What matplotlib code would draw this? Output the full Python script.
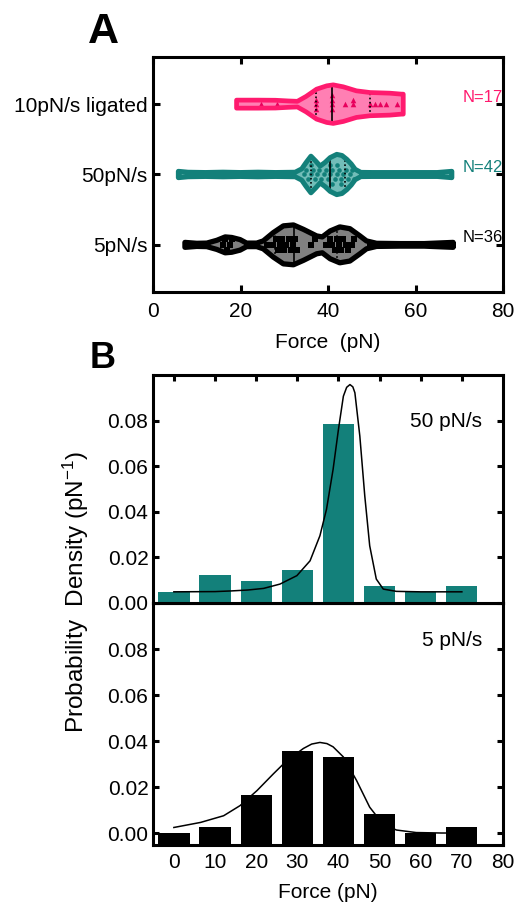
import numpy as np
import matplotlib
matplotlib.use("Agg")
import matplotlib.pyplot as plt

plt.rcParams["font.family"] = ["Liberation Sans", "DejaVu Sans"]
plt.rcParams["mathtext.fontset"] = "custom"
plt.rcParams["mathtext.rm"] = "Liberation Sans"
plt.rcParams["mathtext.default"] = "regular"
plt.rcParams["font.size"] = 15

# ---- panel A: rupture forces (pN) per condition ----
groups = ["5pN/s", "50pN/s", "10pN/s ligated"]
n_labels = ["N=36", "N=42", "N=17"]

f_5 = [7.5, 16.0, 16.5, 17.0, 17.5, 18.0, 23.0,
       26.0, 27.5, 28.0, 28.5, 29.0, 29.5, 30.0, 30.5, 31.0, 31.5, 32.0, 32.5, 33.0,
       36.0, 37.0, 39.5, 40.5, 41.0, 41.5, 42.0, 42.5, 43.0, 43.5, 44.0, 44.5,
       45.5, 46.0, 49.5, 68.5]
f_50 = [6.0, 11.0, 13.0, 21.0, 24.0, 28.0, 31.0,
        34.5, 35.0, 35.5, 36.0, 36.0, 36.5, 37.0, 37.5, 38.0, 38.5,
        39.0, 39.5, 40.0, 40.5, 40.5, 41.0, 41.0, 41.5, 42.0, 42.0, 42.5, 43.0,
        43.0, 43.5, 44.0, 44.5, 45.0, 45.5, 46.0,
        50.0, 55.0, 60.0, 62.0, 66.0, 68.0]
f_lig = [24.6, 28.3, 37.3, 37.3, 37.3, 40.8, 40.8, 40.8, 40.8, 43.9,
         45.6, 45.6, 49.6, 50.7, 51.9, 53.2, 55.7]

# violin outlines: force grid and half width (category units)
prof5_x = [7.3, 10, 12.3, 14.6, 16.5, 18.0, 19.9, 21.4, 23.7, 25.2, 27.5, 29.8, 32.1,
           34.4, 37.4, 38.7, 40.5, 42.7, 45.0, 47.3, 48.8, 51.1, 56.5, 62, 68.6]
prof5_w = [0.035, 0.022, 0.025, 0.065, 0.113, 0.105, 0.075, 0.025, 0.025, 0.056, 0.174,
           0.27, 0.283, 0.22, 0.127, 0.113, 0.198, 0.255, 0.23, 0.127, 0.056, 0.022,
           0.018, 0.018, 0.035]
prof50_x = [5.8, 8, 12, 16, 20, 24, 28, 32.5, 34.0, 35.0, 36.1, 37.2, 38.2, 39.3, 40.5,
            42.0, 43.2, 44.3, 45.3, 46.2, 47.5, 50, 55, 60, 65, 68.3]
prof50_w = [0.045, 0.032, 0.028, 0.033, 0.028, 0.033, 0.028, 0.032, 0.08, 0.17, 0.26,
            0.19, 0.12, 0.17, 0.24, 0.286, 0.27, 0.215, 0.15, 0.074, 0.03, 0.028,
            0.028, 0.028, 0.028, 0.045]
proflig_x = [19.1, 20, 24, 28, 31, 33, 35, 37.4, 39.7, 41.2, 43.5, 46.5, 49.6, 54.1,
             56.8, 57.2]
proflig_w = [0.057, 0.057, 0.057, 0.055, 0.045, 0.04, 0.11, 0.213, 0.26, 0.274, 0.246,
             0.189, 0.165, 0.156, 0.142, 0.142]

# ---- panel B: histograms (probability density, 1/pN) and fitted curves ----
bins = [0, 10, 20, 30, 40, 50, 60, 70]
dens50 = [0.0049, 0.0123, 0.0096, 0.0146, 0.0786, 0.0074, 0.0049, 0.0074]
dens5 = [0.0, 0.0028, 0.0168, 0.0358, 0.0332, 0.0083, 0.0, 0.0028]

fit50_x = [0, 10, 14, 18, 21.8, 25.8, 29.9, 33.1, 35.5, 37.1, 38.7, 40.0, 41.2, 42.0,
           42.8, 43.5, 44.0, 45.2, 46.4, 47.6, 49.2, 50.9, 54.1, 60, 70]
fit50_y = [0.0049, 0.0050, 0.0053, 0.0057, 0.0064, 0.0083, 0.0120, 0.0185, 0.0295,
           0.0411, 0.0586, 0.0761, 0.0907, 0.0946, 0.0958, 0.0948, 0.0922, 0.0732,
           0.0470, 0.0251, 0.0105, 0.0061, 0.0051, 0.0049, 0.0049]
fit5_x = [0, 6.5, 12.1, 16.1, 20.2, 24.2, 27.5, 31.5, 33.5, 35.5, 37.2, 38.7, 41.2,
          44.4, 47.6, 50.8, 54.1, 58.9, 65, 70]
fit5_y = [0.0026, 0.0048, 0.0077, 0.0121, 0.0186, 0.0259, 0.0317, 0.0369, 0.0388,
          0.0395, 0.0390, 0.0376, 0.0332, 0.0230, 0.0114, 0.0041, 0.0015, 0.0004,
          0.0002, 0.0002]

pink, pink_fill, pink_pt = "#ff1a6e", "#ff7fb3", "#e8005c"
teal, teal_fill = "#13807a", "#72bdb8"
grey = "#808080"

fig = plt.figure(figsize=(5.16, 9.02), dpi=100)
W, H = 516, 902


def swarm(vals, sx, sy, d=4.6):
    # simple beeswarm: stack points vertically when they would overlap (px units)
    placed, offs = [], []
    for v in vals:
        for k in [0, 1, -1, 2, -2, 3, -3, 4, -4, 5, -5]:
            o = k * d / sy
            if all(((v - pv) * sx) ** 2 + ((o - po) * sy) ** 2 >= d ** 2 for pv, po in placed):
                break
        placed.append((v, o))
        offs.append(o)
    return np.array(offs)


axA = fig.add_axes([153 / W, 1 - 292 / H, 350 / W, 235 / H])
sx, sy = 350 / 80, 235 / 3.34
violins = [
    (1, prof5_x, prof5_w, f_5, "s", "black", grey, "black", 16, 3.8, 5.4),
    (2, prof50_x, prof50_w, f_50, "o", teal, teal_fill, teal, 11, 3.6, 4.6),
    (3, proflig_x, proflig_w, f_lig, "^", pink, pink_fill, pink_pt, 16, 3.4, 4.6),
]
for pos, vx, vw, pts, mk, edge, fill, pcol, ms, lw, gap in violins:
    vx = np.array(vx); vw = np.array(vw)
    xs = np.r_[vx, vx[::-1]]
    ys = np.r_[pos + vw, (pos - vw)[::-1]]
    axA.fill(xs, ys, facecolor=fill, edgecolor="none", zorder=2)
    pts = np.array(pts)
    offs = swarm(pts, sx, sy, gap)
    axA.scatter(pts, pos + offs, marker=mk, s=ms, color=pcol, linewidths=0, zorder=3)
    q1, med, q3 = np.percentile(pts, [25, 50, 75])
    for q, ls in [(q1, (0, (1, 1.5))), (med, "-"), (q3, (0, (1, 1.5)))]:
        hw = np.interp(q, vx, vw)
        axA.plot([q, q], [pos - hw, pos + hw], color="black", lw=1.2, ls=ls, zorder=4)
    axA.fill(xs, ys, facecolor="none", edgecolor=edge, lw=lw, joinstyle="round", zorder=5)

for pos, lab, col, dy in [(1, n_labels[0], "black", 0.04), (2, n_labels[1], teal, 0.04),
                          (3, n_labels[2], pink, 0.03)]:
    axA.text(70.8, pos + dy, lab, color=col, fontsize=12, ha="left", va="baseline")

axA.set_xlim(0, 80)
axA.set_ylim(0.33, 3.67)
axA.set_xticks([0, 20, 40, 60, 80])
axA.set_yticks([1, 2, 3])
axA.set_yticklabels(groups)
axA.tick_params(direction="in", top=True, right=True, length=5, width=2.2, labelsize=15)
axA.tick_params(axis="x", pad=7)
axA.tick_params(axis="y", pad=4)
axA.set_xlabel("Force  (pN)", fontsize=15, labelpad=9)
for s in axA.spines.values():
    s.set_linewidth(2.2)

# bottom histogram first so the upper panel draws over the shared edge
ylo = -0.005
axB = fig.add_axes([153.3 / W, 1 - 845 / H, 349.7 / W, 242 / H])
axB.bar(bins, np.array(dens5) - ylo, bottom=ylo, width=7.6, color="black", zorder=2)
axB.plot(fit5_x, fit5_y, color="black", lw=1.1, zorder=3)
axB.set_xlim(-5, 80)
axB.set_ylim(ylo, 0.1)
axB.set_xticks(range(0, 81, 10))
axB.set_yticks([0, 0.02, 0.04, 0.06, 0.08])
axB.set_yticklabels(["0.00", "0.02", "0.04", "0.06", "0.08"])
axB.tick_params(direction="in", right=True, length=4.5, width=2.2, labelsize=15)
axB.tick_params(axis="x", pad=6)
axB.tick_params(axis="y", pad=3.5)
axB.set_xlabel("Force (pN)", fontsize=15, labelpad=8)
axB.text(75, 0.0815, "5 pN/s", ha="right", va="baseline", fontsize=15)
for s in axB.spines.values():
    s.set_linewidth(2.2)

axT = fig.add_axes([153.3 / W, 1 - 603 / H, 349.7 / W, 228 / H])
axT.bar(bins, dens50, width=7.6, color=teal, zorder=2)
axT.plot(fit50_x, fit50_y, color="black", lw=1.1, zorder=3)
axT.set_xlim(-5, 80)
axT.set_ylim(0, 0.1)
axT.set_xticks(range(0, 71, 10))
axT.set_yticks([0, 0.02, 0.04, 0.06, 0.08])
axT.set_yticklabels(["0.00", "0.02", "0.04", "0.06", "0.08"])
axT.tick_params(direction="in", right=True, length=4.5, width=2.2, labelsize=15)
axT.tick_params(axis="x", top=True, bottom=False, labelbottom=False)
axT.tick_params(axis="y", pad=3.5)
axT.text(75, 0.077, "50 pN/s", ha="right", va="baseline", fontsize=15)
for s in axT.spines.values():
    s.set_linewidth(2.2)

fig.text(76 / W, 1 - 592 / H, "Probability  Density (pN$^{-1}$)", rotation=90,
         ha="center", va="center", fontsize=17.5)
fig.text(88 / W, 1 - 43 / H, "A", fontsize=31, fontweight="bold", ha="left", va="baseline")
fig.text(90 / W, 1 - 368 / H, "B", fontsize=26, fontweight="bold", ha="left", va="baseline")

fig.savefig("out.png", dpi=100)
plt.close(fig)
